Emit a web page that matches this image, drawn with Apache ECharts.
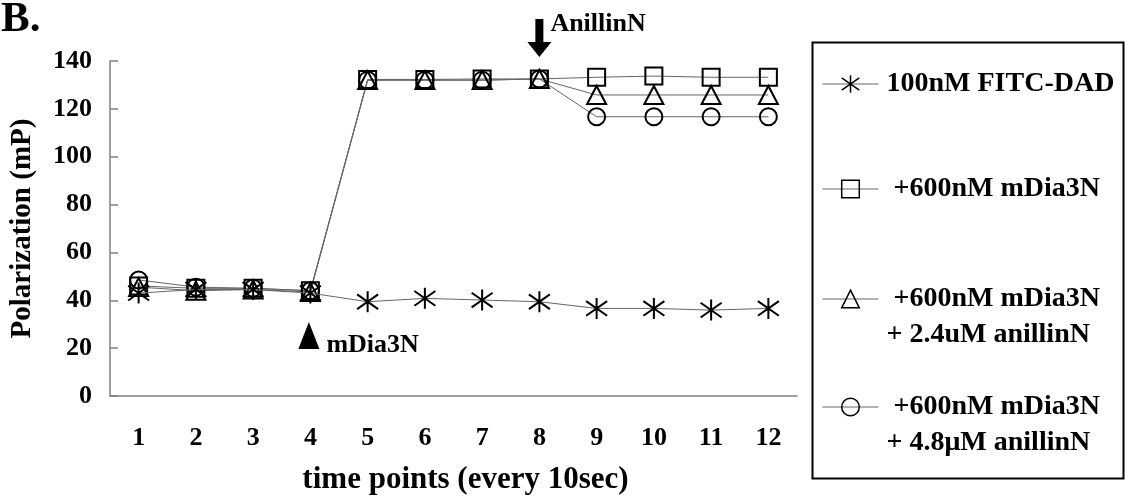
<!DOCTYPE html>
<html>
<head>
<meta charset="utf-8">
<script src="https://cdn.jsdelivr.net/npm/echarts@6/dist/echarts.min.js"></script>
<style>
html,body{margin:0;padding:0;background:#fff;}
#chart{width:1125px;height:501px;}
</style>
</head>
<body>
<div id="chart"></div>
<script>
const categories = ['1','2','3','4','5','6','7','8','9','10','11','12'];
const yTicks = [0,20,40,60,80,100,120,140];
const seriesNames = [
  '100nM FITC-DAD',
  '+600nM mDia3N',
  '+600nM mDia3N\n+ 2.4uM anillinN',
  '+600nM mDia3N\n+ 4.8\u03bcM anillinN'
];
const fitcDad = [43, 44.5, 44.5, 43, 39.4, 40.8, 40.1, 39.4, 36.6, 36.6, 35.9, 36.6];
const mDia3N = [46, 45, 45, 44, 132.3, 132.3, 132.5, 132.5, 133.2, 133.7, 133.2, 133.2];
const anillin24 = [45.5, 44, 44.5, 43.5, 132, 132, 132, 132.5, 125.8, 125.8, 125.8, 125.8];
const anillin48 = [48.5, 45.5, 45, 44, 132, 132, 132, 132.5, 116.7, 116.7, 116.7, 116.7];
// annotation anchors in data space: [category index, value]
const anillinArrowAt = [7, 149.6];
const anillinTextAt = [7, 155.5];
const mdiaArrowAt = [3, 25.3];
const mdiaTextAt = [3, 21];

const FONT = 'Liberation Serif';
const asterisk = 'path://M0,-10L0,10M-9,-7L9,7M-9,7L9,-7';

function mkSeries(name, data, symbol, size, extra) {
  return Object.assign({
    name: name,
    type: 'line',
    data: data,
    symbol: symbol,
    symbolSize: size,
    showAllSymbol: true,
    lineStyle: {color: '#666', width: 1},
    itemStyle: {color: 'rgba(0,0,0,0)', borderColor: '#000', borderWidth: 2},
    emphasis: {disabled: true},
    animation: false
  }, extra || {});
}

const legendBase = {
  left: 822, padding: 0, itemWidth: 56, itemHeight: 22, itemGap: 0,
  selectedMode: false,
  itemStyle: {color: 'rgba(0,0,0,0)', borderColor: '#000', borderWidth: 1.5},
  lineStyle: {color: '#666', width: 1},
  textStyle: {fontFamily: FONT, fontWeight: 'bold', fontSize: 28, color: '#000', lineHeight: 36, padding: [0,0,0,3]}
};
function mkLegend(i, top, multi) {
  const l = JSON.parse(JSON.stringify(legendBase));
  l.data = [seriesNames[i]];
  l.top = top;
  if (i === 0) l.formatter = function (n) { return n; };
  else if (multi) l.formatter = function (n) { return '\n ' + n; };
  else l.formatter = function (n) { return ' ' + n; };
  return l;
}

const chart = echarts.init(document.getElementById('chart'), null, {renderer: 'canvas'});
const option = {
  backgroundColor: '#fff',
  animation: false,
  title: {
    text: 'B.', left: 1, top: -2, padding: 0,
    textStyle: {fontFamily: FONT, fontWeight: 'bold', fontSize: 43, color: '#000'}
  },
  grid: {left: 108, right: 328, top: 61, bottom: 105, containLabel: false},
  xAxis: {
    type: 'category',
    data: categories,
    boundaryGap: true,
    name: 'time points (every 10sec)',
    nameLocation: 'middle',
    nameGap: 68,
    nameTextStyle: {fontFamily: FONT, fontWeight: 'bold', fontSize: 31, color: '#000', padding: [0,0,0,24]},
    axisLine: {lineStyle: {color: '#808080', width: 1.5}},
    axisTick: {inside: true, length: 8, lineStyle: {color: '#808080', width: 1.5}},
    axisLabel: {fontFamily: FONT, fontWeight: 'bold', fontSize: 26, color: '#000', margin: 29},
    splitLine: {show: false}
  },
  yAxis: {
    type: 'value',
    min: yTicks[0], max: yTicks[yTicks.length - 1], interval: 20,
    name: 'Polarization (mP)',
    nameLocation: 'middle',
    nameGap: 73,
    nameTextStyle: {fontFamily: FONT, fontWeight: 'bold', fontSize: 29, color: '#000'},
    axisLine: {show: true, lineStyle: {color: '#808080', width: 1.5}},
    axisTick: {show: true, inside: true, length: 8, lineStyle: {color: '#808080', width: 1.5}},
    axisLabel: {fontFamily: FONT, fontWeight: 'bold', fontSize: 26, color: '#000', margin: 18},
    splitLine: {show: false}
  },
  legend: [
    mkLegend(0, 66, false),
    mkLegend(1, 171, false),
    mkLegend(2, 245, true),
    mkLegend(3, 353, true)
  ],
  series: [
    mkSeries(seriesNames[0], fitcDad, asterisk, 21, {z: 5}),
    mkSeries(seriesNames[1], mDia3N, 'rect', 17),
    mkSeries(seriesNames[2], anillin24, 'triangle', [19, 18]),
    mkSeries(seriesNames[3], anillin48, 'circle', 17)
  ]
};
chart.setOption(option);

// annotations placed from data coordinates through the chart's own scales
const pA = chart.convertToPixel({gridIndex: 0}, [categories[anillinArrowAt[0]], anillinArrowAt[1]]);
const pAt = chart.convertToPixel({gridIndex: 0}, [categories[anillinTextAt[0]], anillinTextAt[1]]);
const pM = chart.convertToPixel({gridIndex: 0}, [categories[mdiaArrowAt[0]], mdiaArrowAt[1]]);
const pMt = chart.convertToPixel({gridIndex: 0}, [categories[mdiaTextAt[0]], mdiaTextAt[1]]);
function arrowPts(cx, cy) {
  const t = cy - 19;
  return [[cx-4,t],[cx+4,t],[cx+4,t+23],[cx+12,t+23],[cx,t+38],[cx-12,t+23],[cx-4,t+23]];
}
function triPts(cx, cy) {
  return [[cx, cy-13.5],[cx+10.5, cy+13.5],[cx-10.5, cy+13.5]];
}
chart.setOption({
  graphic: [
    {type: 'rect', left: 810, top: 40, silent: true,
     shape: {width: 311, height: 436},
     style: {fill: 'none', stroke: '#000', lineWidth: 2}},
    {type: 'polygon', silent: true, shape: {points: arrowPts(pA[0], pA[1])}, style: {fill: '#000'}},
    {type: 'text', silent: true, x: pAt[0] + 11, y: pAt[1],
     style: {text: 'AnillinN', fill: '#000', font: 'bold 26px "Liberation Serif"', textAlign: 'left', textVerticalAlign: 'middle'}},
    {type: 'polygon', silent: true, shape: {points: triPts(pM[0] - 1.5, pM[1])}, style: {fill: '#000'}},
    {type: 'text', silent: true, x: pMt[0] + 16, y: pMt[1],
     style: {text: 'mDia3N', fill: '#000', font: 'bold 26px "Liberation Serif"', textAlign: 'left', textVerticalAlign: 'middle'}}
  ]
});
</script>
</body>
</html>
